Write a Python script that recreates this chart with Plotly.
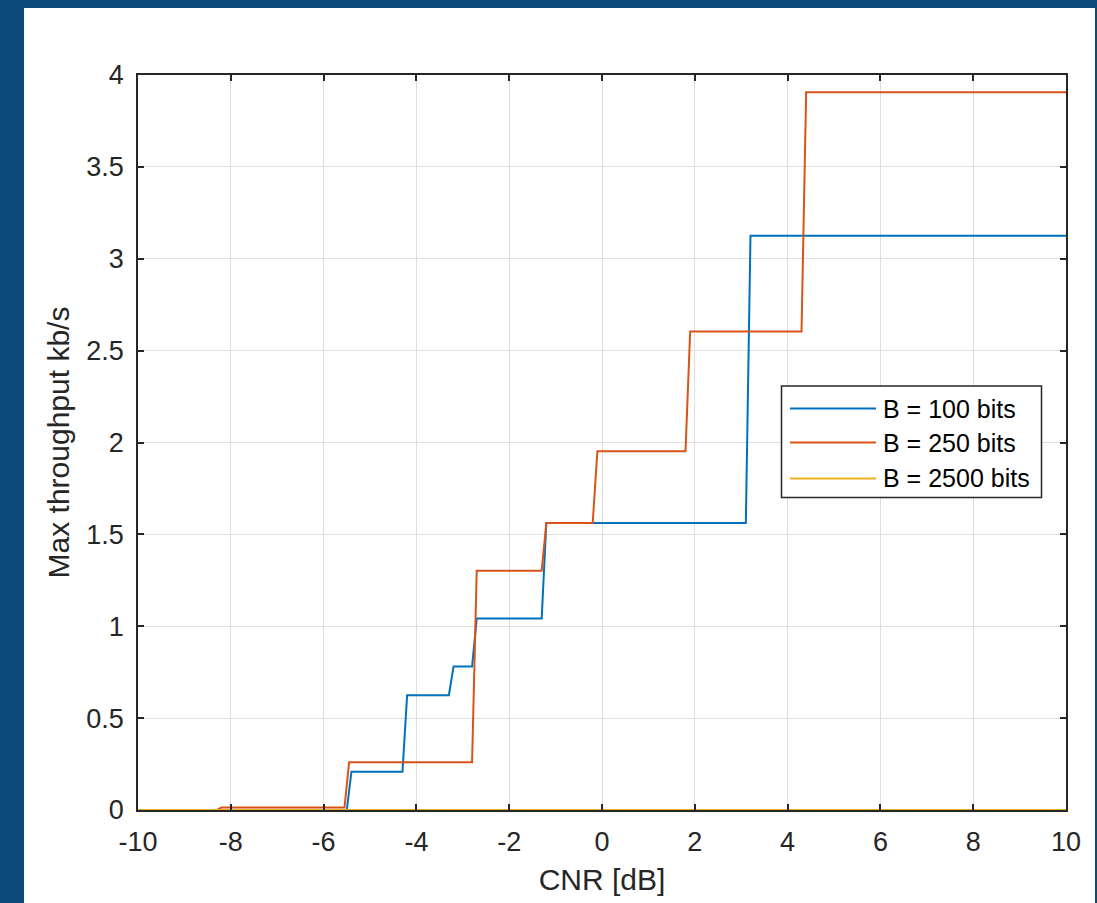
import plotly.graph_objects as go

# ---- data ----
cnr_100 = [-10, -5.5, -5.4, -4.3, -4.2, -3.3, -3.2, -2.8, -2.7, -1.3, -1.2, 3.1, 3.2, 10]
tp_100 = [0, 0, 0.208, 0.208, 0.625, 0.625, 0.781, 0.781, 1.042, 1.042, 1.5625, 1.5625, 3.125, 3.125]

cnr_250 = [-10, -8.3, -8.2, -5.55, -5.45, -2.8, -2.7, -1.3, -1.2, -0.2, -0.1, 1.8, 1.9, 4.3, 4.4, 10]
tp_250 = [0, 0, 0.013, 0.013, 0.26, 0.26, 1.302, 1.302, 1.5625, 1.5625, 1.953, 1.953, 2.604, 2.604, 3.906, 3.906]

cnr_2500 = [-10, 10]
tp_2500 = [0, 0]

series_names = ["B = 100 bits", "B = 250 bits", "B = 2500 bits"]
series_colors = ["#0072BD", "#D95319", "#EDB120"]

x_ticks = [-10, -8, -6, -4, -2, 0, 2, 4, 6, 8, 10]
x_tick_labels = ["-10", "-8", "-6", "-4", "-2", "0", "2", "4", "6", "8", "10"]
y_ticks = [0, 0.5, 1, 1.5, 2, 2.5, 3, 3.5, 4]
y_tick_labels = ["0", "0.5", "1", "1.5", "2", "2.5", "3", "3.5", "4"]

FONT = "Liberation Sans, Arial, Helvetica, sans-serif"
TXT = "#262626"

fig = go.Figure()
for xs, ys, name, col in zip([cnr_100, cnr_250, cnr_2500], [tp_100, tp_250, tp_2500],
                             series_names, series_colors):
    fig.add_trace(go.Scatter(x=xs, y=ys, mode="lines", name=name,
                             line=dict(color=col, width=2), showlegend=False))

axis_common = dict(
    showgrid=True, gridcolor="#dedede", gridwidth=1,
    showline=True, linecolor=TXT, linewidth=1.5, mirror="ticks",
    ticks="inside", ticklen=6, tickwidth=1.5, tickcolor=TXT,
    zeroline=False, tickfont=dict(family=FONT, size=27, color=TXT),
)

# ---- legend box drawn in paper coordinates (plot area: 928 x 735 px) ----
PW, PH, L, B = 928.0, 735.0, 138.0, 810.0
def px(xp):
    return (xp - L) / PW
def py(yp):
    return (B - yp) / PH

shapes = [
    # white page area behind the figure (dark border shows around it)
    dict(type="rect", xref="paper", yref="paper",
         x0=px(24), x1=px(1095), y0=py(903), y1=py(8),
         fillcolor="white", line=dict(width=0), layer="below"),
    # legend frame
    dict(type="rect", xref="paper", yref="paper",
         x0=px(781.5), x1=px(1041.5), y0=py(497.5), y1=py(386),
         fillcolor="white", line=dict(color=TXT, width=1.5), layer="above"),
]
annotations = []
row_y = [408.5, 442.5, 478.5]
for name, col, ry in zip(series_names, series_colors, row_y):
    shapes.append(dict(type="line", xref="paper", yref="paper",
                       x0=px(790), x1=px(876), y0=py(ry), y1=py(ry),
                       line=dict(color=col, width=2), layer="above"))
    annotations.append(dict(xref="paper", yref="paper", x=px(881), y=py(ry),
                            xanchor="left", yanchor="middle", showarrow=False,
                            text=name, font=dict(family=FONT, size=25, color="#000000")))

fig.update_layout(
    width=1097, height=903,
    paper_bgcolor="#0b4a7b",
    plot_bgcolor="white",
    margin=dict(l=138, r=31, t=75, b=93),
    font=dict(family=FONT, color=TXT),
    showlegend=False,
    xaxis=dict(range=[-10, 10], tickvals=x_ticks, ticktext=x_tick_labels, ticklabelstandoff=7,
               title=dict(text="CNR [dB]", font=dict(family=FONT, size=30, color=TXT), standoff=13),
               **axis_common),
    yaxis=dict(range=[0, 4], tickvals=y_ticks, ticktext=y_tick_labels, ticklabelstandoff=7,
               title=dict(text="Max throughput kb/s", font=dict(family=FONT, size=30, color=TXT), standoff=8),
               **axis_common),
    shapes=shapes,
    annotations=annotations,
)

fig.write_html("out.html", config={"displayModeBar": False},
               post_script="document.body.style.margin='0';document.body.style.background='#0b4a7b';")
